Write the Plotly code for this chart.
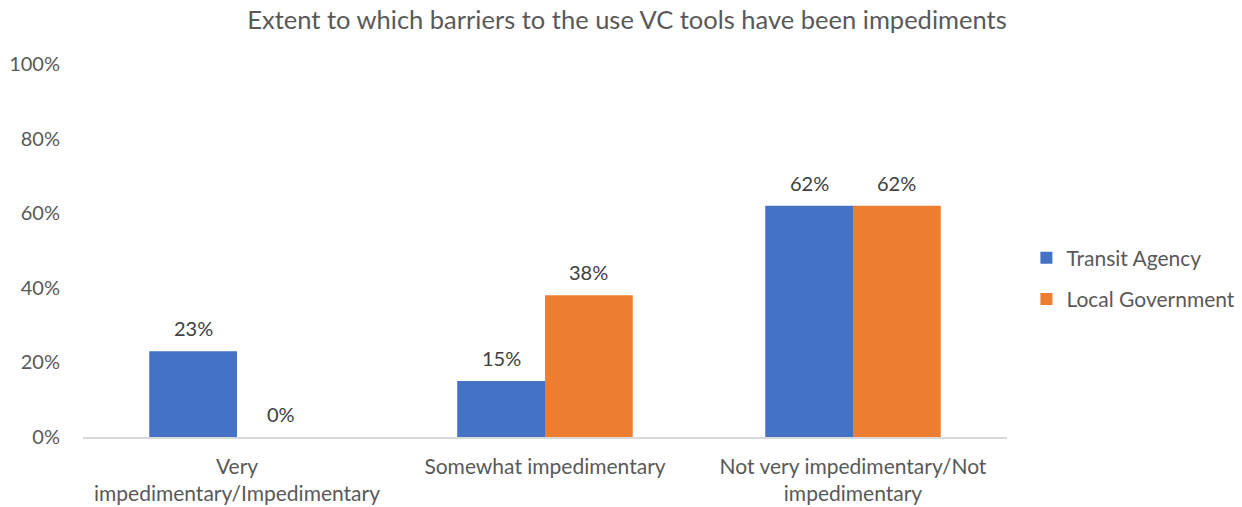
import plotly.graph_objects as go

categories = ["Very<br>impedimentary/Impedimentary", "Somewhat impedimentary",
              "Not very impedimentary/Not<br>impedimentary"]
transit_agency = [0.23, 0.15, 0.62]
local_government = [0.0, 0.38, 0.62]
series_names = ["Transit Agency", "Local Government"]
colors = ["#4472C4", "#ED7D31"]

FONT = "Lato"
# page body has an 8px default margin, so the figure is sized to fit inside
W, H = 1234, 499
ML, MR, MT, MB = 75, 235, 56, 70
BARGAP = 0.43
plot_w = W - ML - MR
bar_px = plot_w / len(categories) * (1 - BARGAP) / 2

fig = go.Figure()
for i, (name, vals, col) in enumerate(zip(series_names, [transit_agency, local_government], colors)):
    fig.add_trace(go.Bar(
        name=name, x=categories, y=vals, marker_color=col, marker_line_width=0,
        legendgroup=name, hoverinfo="x+y",
    ))
    shift = (i - 0.5) * bar_px
    for c, v in zip(categories, vals):
        fig.add_annotation(x=c, y=v, text=f"{v:.0%}", showarrow=False,
                           xshift=shift, yshift=23, yanchor="middle",
                           font=dict(family=FONT, size=20, color="#404040"))

fig.update_layout(
    width=W, height=H,
    paper_bgcolor="white", plot_bgcolor="white",
    margin=dict(l=ML, r=MR, t=MT, b=MB, autoexpand=False),
    barmode="group", bargap=BARGAP, bargroupgap=0,
    title=dict(text="Extent to which barriers to the use VC tools have been impediments",
               x=(627 - 8) / W, xref="container", xanchor="center",
               y=1, yref="container", yanchor="top", pad=dict(t=3, b=0),
               font=dict(family=FONT, size=25.5, color="#595959")),
    font=dict(family=FONT, color="#595959", size=20),
    legend=dict(x=1.021, y=0.425, xanchor="left", yanchor="middle",
                font=dict(family=FONT, size=21, color="#595959"),
                traceorder="grouped", tracegroupgap=11),
    showlegend=True,
)
fig.update_yaxes(range=[0, 1], tickvals=[0, 0.2, 0.4, 0.6, 0.8, 1.0], tickformat=".0%",
                 showgrid=False, zeroline=False, showline=False, ticks="",
                 automargin=False, ticklabelstandoff=22,
                 tickfont=dict(family=FONT, size=20, color="#595959"))
fig.update_xaxes(showline=True, linecolor="#D9D9D9", linewidth=1.5, ticks="",
                 automargin=False, ticklabelstandoff=10,
                 tickfont=dict(family=FONT, size=21, color="#595959"))

fig.write_html("out.html")
